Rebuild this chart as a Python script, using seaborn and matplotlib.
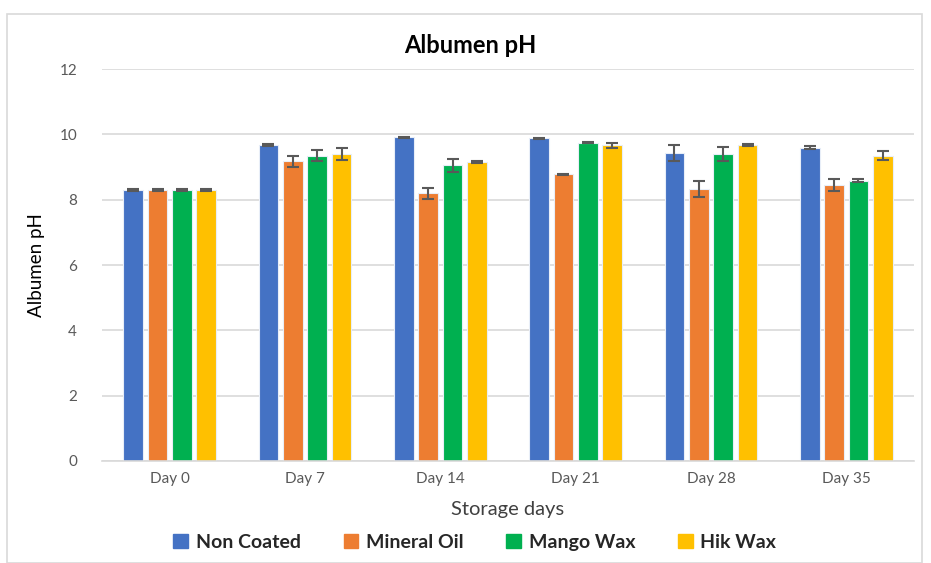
import matplotlib
matplotlib.use("Agg")
import matplotlib.pyplot as plt
from matplotlib.patches import Rectangle
import pandas as pd
import seaborn as sns

sns.set_theme(style="white")
plt.rcParams['font.family'] = ['Lato', 'DejaVu Sans']

days = ['Day 0', 'Day 7', 'Day 14', 'Day 21', 'Day 28', 'Day 35']
treatments = ['Non Coated', 'Mineral Oil', 'Mango Wax', 'Hik Wax']

non_coated = [8.30, 9.67, 9.91, 9.88, 9.42, 9.59]
mineral_oil = [8.30, 9.18, 8.19, 8.78, 8.33, 8.45]
mango_wax = [8.30, 9.35, 9.05, 9.75, 9.40, 8.58]
hik_wax = [8.30, 9.40, 9.15, 9.67, 9.67, 9.35]

non_coated_err = [0.02, 0.03, 0.02, 0.02, 0.24, 0.05]
mineral_oil_err = [0.02, 0.17, 0.18, 0.02, 0.24, 0.19]
mango_wax_err = [0.02, 0.18, 0.19, 0.02, 0.21, 0.05]
hik_wax_err = [0.02, 0.17, 0.04, 0.08, 0.02, 0.15]

colors = ['#4472C4', '#ED7D31', '#00B050', '#FFC000']

values = [non_coated, mineral_oil, mango_wax, hik_wax]
errors = [non_coated_err, mineral_oil_err, mango_wax_err, hik_wax_err]

rows = []
for t, vals in zip(treatments, values):
    for d, v in zip(days, vals):
        rows.append({'day': d, 'treatment': t, 'ph': v})
df = pd.DataFrame(rows)

fig = plt.figure(figsize=(9.31, 5.63), dpi=100)
ax = fig.add_axes([0.1096, 0.1812, 0.8721, 0.6962])

# outer chart frame like the spreadsheet export
fig.patches.append(Rectangle((7 / 931, 0), 915 / 931, 0.975, transform=fig.transFigure,
                             fill=False, edgecolor='#D9D9D9', linewidth=1.2))

sns.barplot(data=df, x='day', y='ph', hue='treatment', order=days, hue_order=treatments,
            palette=colors, saturation=1, errorbar=None, width=0.72, gap=0.2,
            edgecolor='#E8EEF8', linewidth=0.8, ax=ax)

for cont, errs in zip(ax.containers, errors):
    xs = [b.get_x() + b.get_width() / 2 for b in cont]
    hs = [b.get_height() for b in cont]
    ax.errorbar(xs, hs, yerr=errs, fmt='none', ecolor='#595959', elinewidth=1.5,
                capsize=4, capthick=1.5, zorder=5)

ax.set_ylim(0, 12)
ax.set_yticks(range(0, 13, 2))
ax.set_xlim(-0.5, 5.5)
ax.grid(axis='y', color='#D9D9D9', linewidth=1.2)
ax.set_axisbelow(True)
for s in ['top', 'right', 'left']:
    ax.spines[s].set_visible(False)
ax.spines['bottom'].set_color('#D9D9D9')
ax.spines['bottom'].set_linewidth(1.2)
ax.tick_params(axis='both', length=0, labelsize=11, colors='#595959', pad=8)
ax.tick_params(axis='y', pad=18)

ax.set_xlabel('Storage days', fontsize=14.5, color='#404040', labelpad=11)
ax.set_ylabel('Albumen pH', fontsize=13.5, color='black', labelpad=10)
fig.text(0.505, 0.92, 'Albumen pH', ha='center', va='center', fontsize=17,
         fontweight='bold', color='black')

ax.legend_.remove()
handles = [Rectangle((0, 0), 1, 1, color=c) for c in colors]
fig.legend(handles, treatments, loc='center', bbox_to_anchor=(0.51, 0.037), ncol=4,
           frameon=False, prop={'weight': 'bold', 'size': 14},
           handlelength=0.75, handleheight=0.75, handletextpad=0.4, columnspacing=2.2)

fig.savefig('out.png', dpi=100)
